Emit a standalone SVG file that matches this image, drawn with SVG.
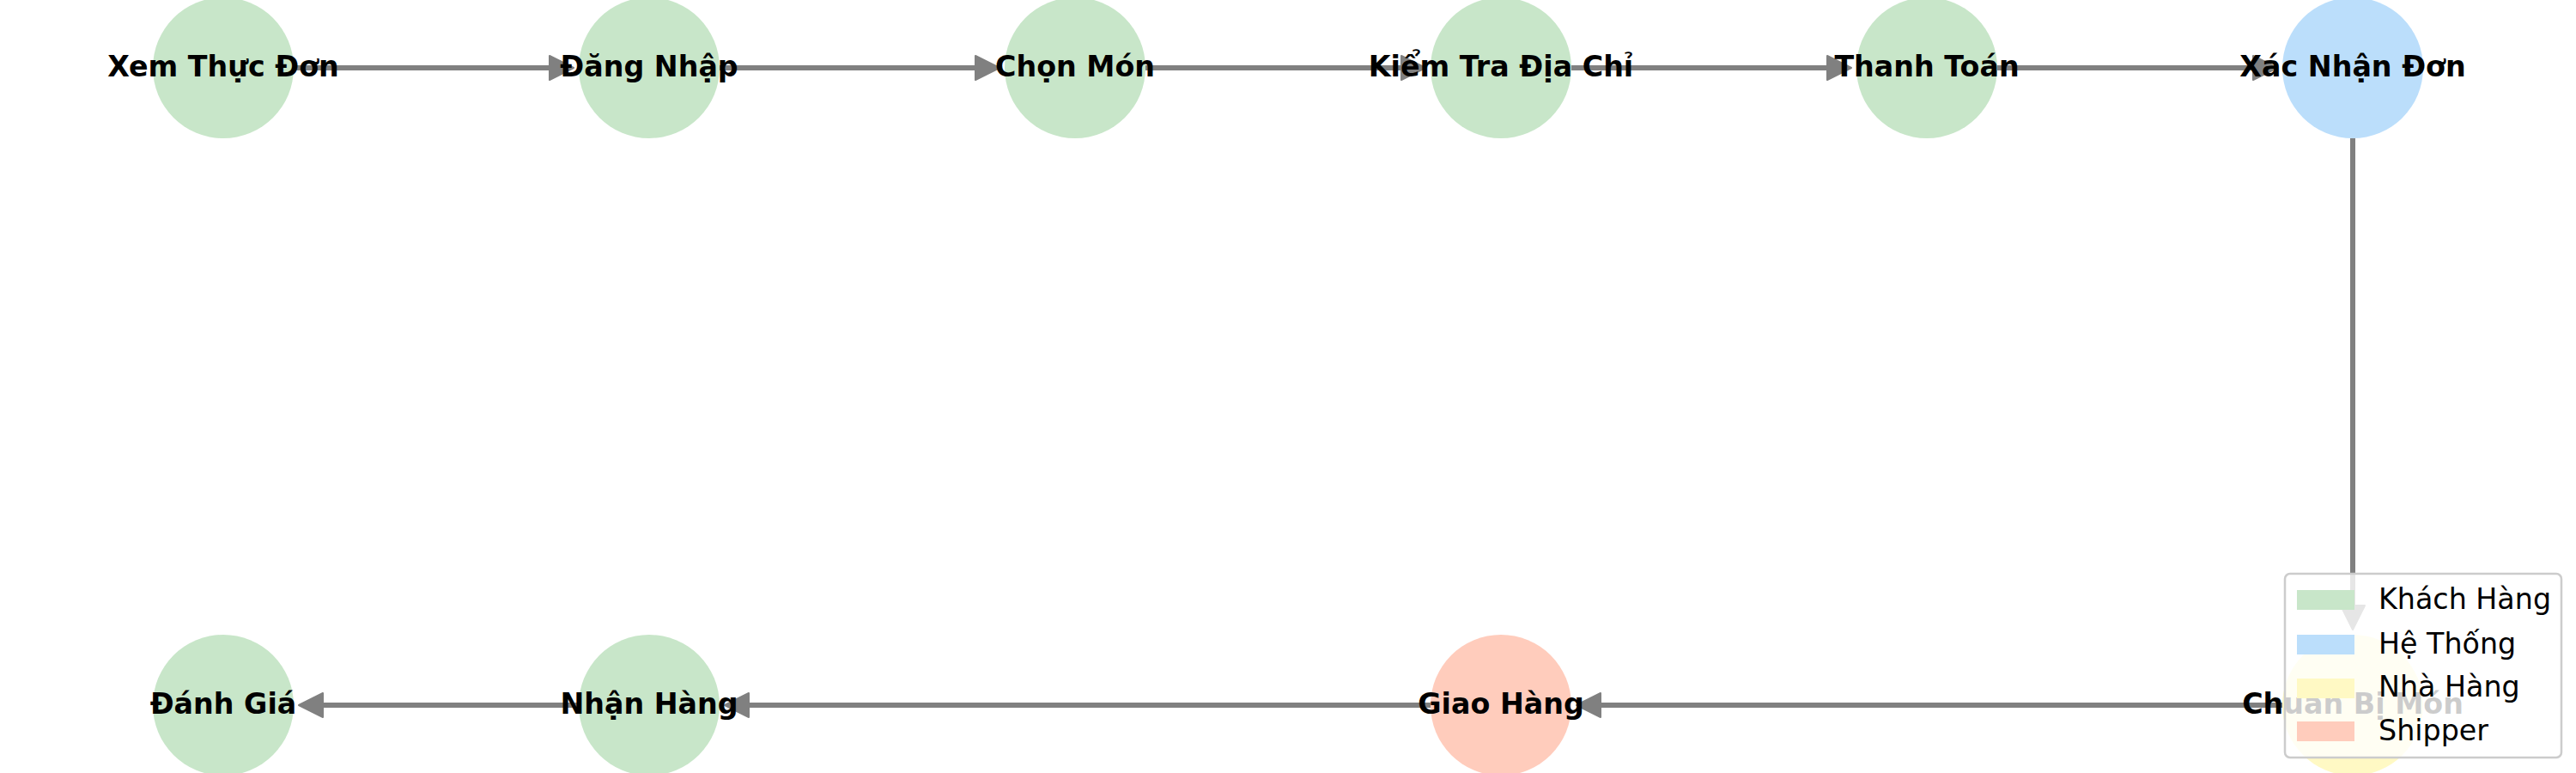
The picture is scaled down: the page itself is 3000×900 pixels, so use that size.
<svg xmlns="http://www.w3.org/2000/svg" width="3000" height="900" viewBox="0 0 3000 900">
<style>
.edge{stroke:#808080;stroke-width:6;fill:none;marker-end:url(#ah)}
.lbl{font-family:"DejaVu Sans",sans-serif;font-weight:bold;font-size:33.3px;fill:#000;text-anchor:middle}
.leg{font-family:"DejaVu Sans",sans-serif;font-size:33.3px;fill:#000}
.kh{fill:#C8E6C9}.ht{fill:#BBDEFB}.nh{fill:#FFF9C4}.sh{fill:#FFCCBC}
</style>
<defs>
<marker id="ah" viewBox="0 0 32 32" refX="3" refY="16" markerWidth="32" markerHeight="32" markerUnits="userSpaceOnUse" orient="auto">
<path d="M2,2 L30,16 L2,30 Z" fill="#808080" stroke="#808080" stroke-width="2" stroke-linejoin="round"/>
</marker>
</defs>
<rect width="3000" height="900" fill="#fff"/>
<g id="edges">
<line class="edge" x1="342" y1="79" x2="641" y2="79"/>
<line class="edge" x1="838" y1="79" x2="1137" y2="79"/>
<line class="edge" x1="1334" y1="79" x2="1633" y2="79"/>
<line class="edge" x1="1830" y1="79" x2="2129" y2="79"/>
<line class="edge" x1="2326" y1="79" x2="2625" y2="79"/>
<line class="edge" x1="2740" y1="161" x2="2740" y2="706"/>
<line class="edge" x1="2658" y1="821" x2="1863" y2="821"/>
<line class="edge" x1="1666" y1="821" x2="871" y2="821"/>
<line class="edge" x1="674" y1="821" x2="375" y2="821"/>
</g>
<g id="n1"><circle class="kh" cx="260" cy="79" r="82"/><text class="lbl" x="260" y="89">Xem Thực Đơn</text></g>
<g id="n2"><circle class="kh" cx="756" cy="79" r="82"/><text class="lbl" x="756" y="89">Đăng Nhập</text></g>
<g id="n3"><circle class="kh" cx="1252" cy="79" r="82"/><text class="lbl" x="1252" y="89">Chọn Món</text></g>
<g id="n4"><circle class="kh" cx="1748" cy="79" r="82"/><text class="lbl" x="1748" y="89">Kiểm Tra Địa Chỉ</text></g>
<g id="n5"><circle class="kh" cx="2244" cy="79" r="82"/><text class="lbl" x="2244" y="89">Thanh Toán</text></g>
<g id="n6"><circle class="ht" cx="2740" cy="79" r="82"/><text class="lbl" x="2740" y="89">Xác Nhận Đơn</text></g>
<g id="n7"><circle class="nh" cx="2740" cy="821" r="82"/><text class="lbl" x="2740" y="831">Chuan Bị Món</text></g>
<g id="n8"><circle class="sh" cx="1748" cy="821" r="82"/><text class="lbl" x="1748" y="831">Giao Hàng</text></g>
<g id="n9"><circle class="kh" cx="756" cy="821" r="82"/><text class="lbl" x="756" y="831">Nhận Hàng</text></g>
<g id="n10"><circle class="kh" cx="260" cy="821" r="82"/><text class="lbl" x="260" y="831">Đánh Giá</text></g>
<g id="legend">
<rect x="2661" y="668" width="322" height="214" rx="6" fill="#fff" fill-opacity="0.8" stroke="#cccccc" stroke-width="2.5"/>
<rect class="kh" x="2675" y="687" width="67" height="23"/><text class="leg" x="2770" y="709">Khách Hàng</text>
<rect class="ht" x="2675" y="739" width="67" height="23"/><text class="leg" x="2770" y="761">Hệ Thống</text>
<rect class="nh" x="2675" y="790" width="67" height="23"/><text class="leg" x="2770" y="811">Nhà Hàng</text>
<rect class="sh" x="2675" y="840" width="67" height="23"/><text class="leg" x="2770" y="862">Shipper</text>
</g>
</svg>
